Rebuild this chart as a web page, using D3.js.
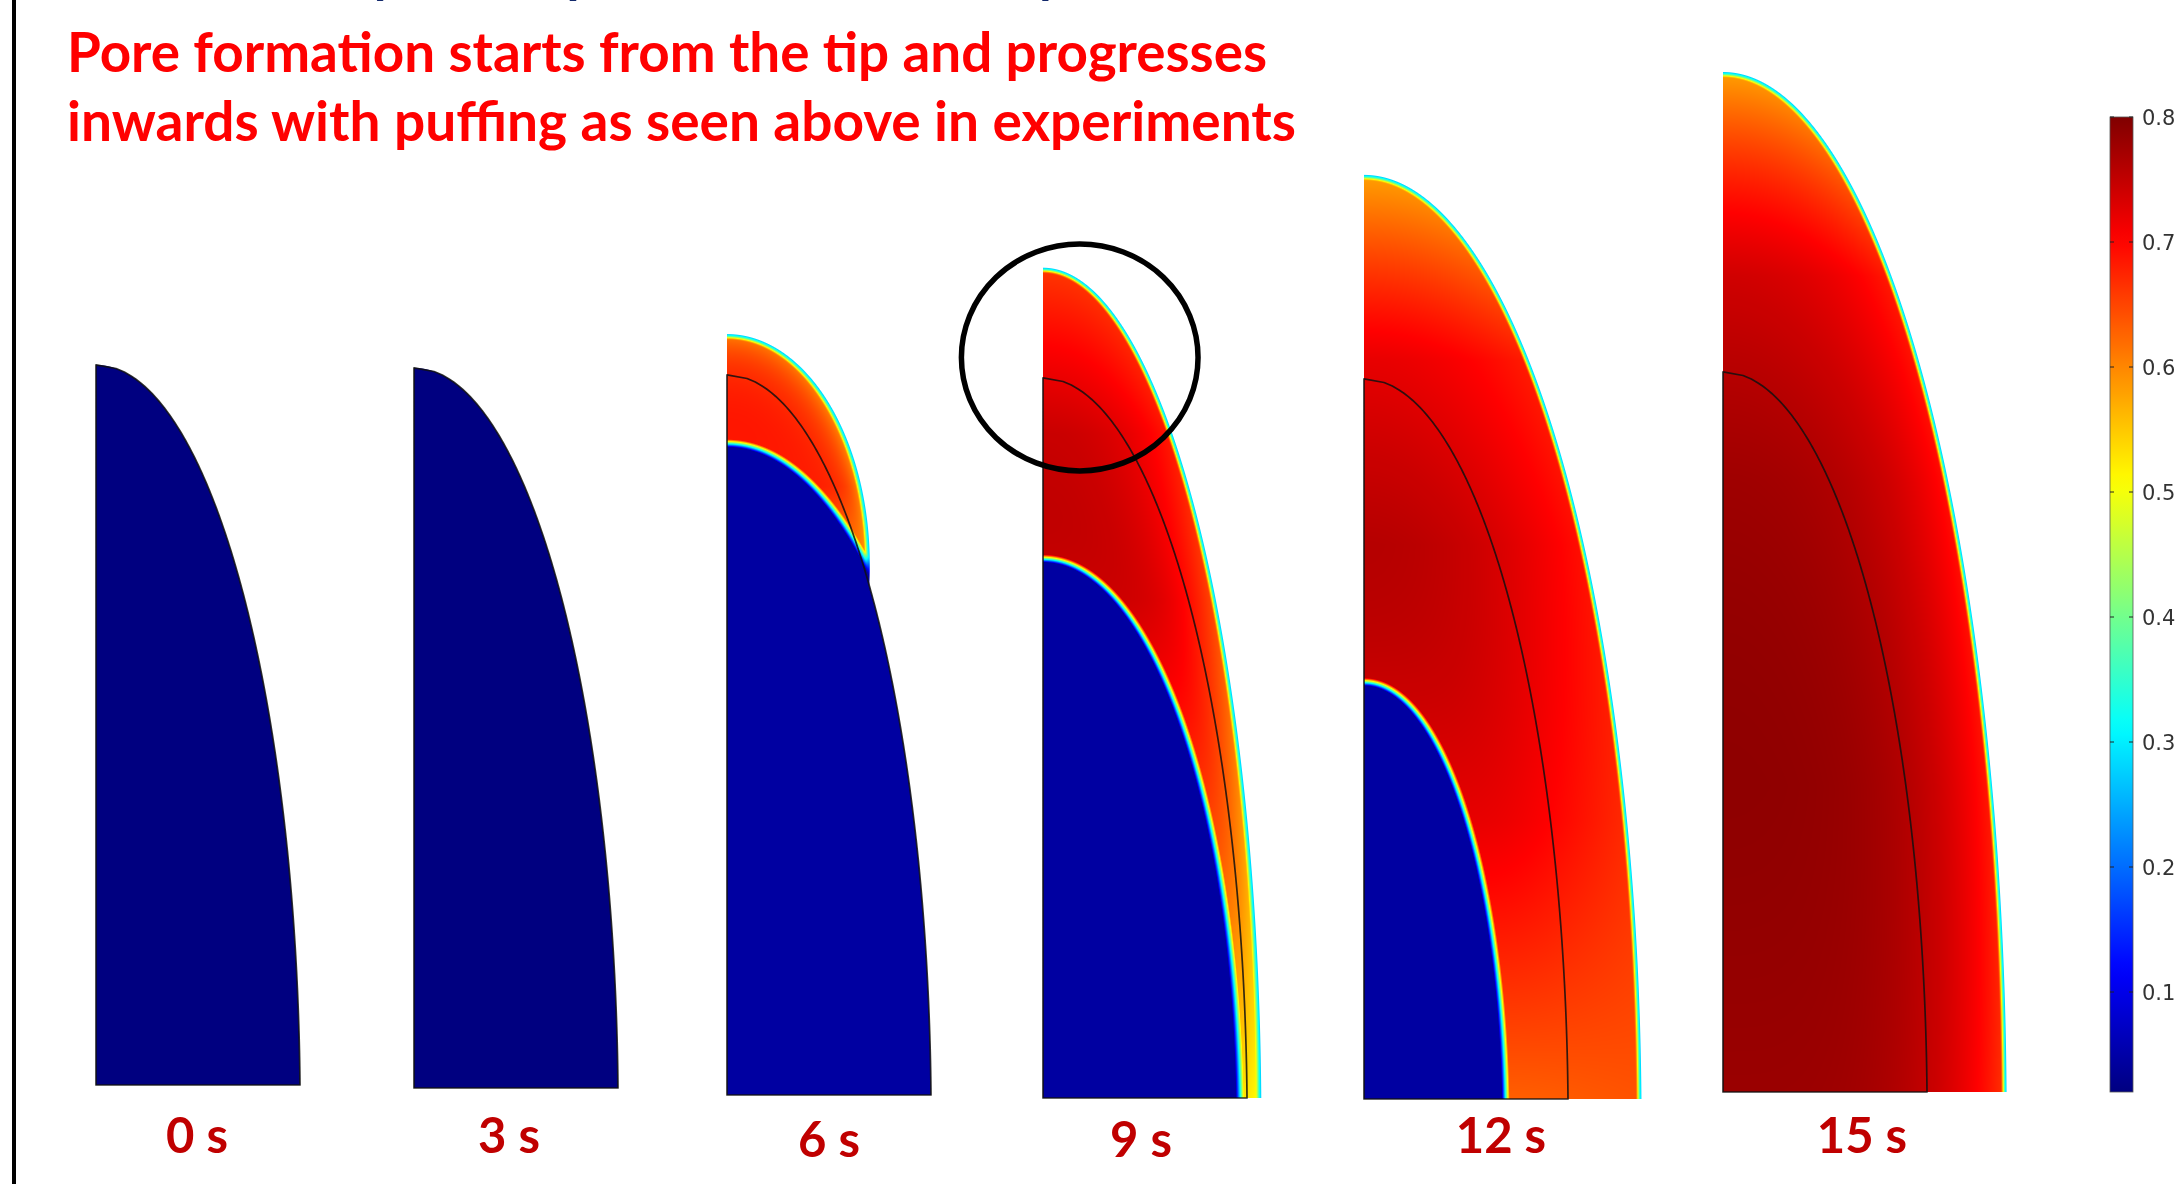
<!DOCTYPE html>
<html><head><meta charset="utf-8">
<script src="https://cdn.jsdelivr.net/npm/d3@7"></script>
<style>
html,body{margin:0;padding:0;background:#fff;}
#wrap{position:relative;width:2184px;height:1184px;overflow:hidden;background:#fff;}
canvas,svg{position:absolute;left:0;top:0;}
</style></head>
<body><div id="wrap"><canvas id="field" width="2184" height="1184"></canvas><svg id="chart" width="2184" height="1184"></svg></div>
<script>
// ---- snapshot data (lengths normalised by the initial kernel half-width) ----
const times = ["0 s", "3 s", "6 s", "9 s", "12 s", "15 s"];
const kernelHalfWidth = 1.0;
const kernelHeight = 3.53;
// swollen outer surface (half-width at the base, height at the tip)
const outerHalfWidth = [1.0, 1.0, 1.0, 1.07, 1.36, 1.39];
const outerHeight    = [3.53, 3.53, 3.73, 4.07, 4.53, 5.00];
// at 6 s only the tip has puffed: a cap sitting on the original kernel
const capBase      = [null, null, 2.60, null, null, null];
const capHalfWidth = [null, null, 0.70, null, null, null];
// pore front (edge of the dense core); null = no pores yet, 0 = fully porous
const frontHalfWidth = [null, null, 1.19, 0.95, 0.68, 0];
const frontHeight    = [null, null, 3.18, 2.63, 2.03, 0];
// porosity of the dense core
const coreValue = [0.02, 0.02, 0.045, 0.045, 0.045, 0.045];
// porosity next to the front and at the surface, along relative height
const heightStops = [0, 0.3, 0.6, 0.8, 1];
const innerPorosity = [null, null,
  [0.50, 0.50, 0.50, 0.68, 0.70],
  [0.53, 0.64, 0.74, 0.77, 0.76],
  [0.63, 0.72, 0.77, 0.77, 0.75],
  [0.78, 0.79, 0.79, 0.78, 0.75]];
const outerPorosity = [null, null,
  [0.50, 0.50, 0.50, 0.56, 0.60],
  [0.50, 0.56, 0.64, 0.68, 0.66],
  [0.64, 0.67, 0.69, 0.68, 0.58],
  [0.66, 0.68, 0.69, 0.68, 0.58]];
const profileExponent = [1, 1, 1.5, 2, 2.5, 4];
const surfaceValue = 0.28;
// colour bar
const colorDomain = [0.02, 0.8];
const colorTicks = [0.1, 0.2, 0.3, 0.4, 0.5, 0.6, 0.7, 0.8];
// text
const headline = "Porosity development \u2013 model study";
const noteLines = ["Pore formation starts from the tip and progresses",
                   "inwards with puffing as seen above in experiments"];

// ---- layout ----
const W = 2184, H = 1184;
const unitPx = 204;
const panelLeft   = [96, 414, 727, 1043, 1364, 1723];
const panelBottom = [1085, 1088, 1095, 1098, 1099, 1092];
const labelCentre = [197, 509, 829, 1141, 1501, 1862];
const labelBase   = [1153, 1153, 1157, 1157, 1153, 1153];
const baseDrop = 0.12; // ellipse centres sit slightly below the base

const svg = d3.select("#chart");
const ctx = document.getElementById("field").getContext("2d");

// jet colour map over the colour-bar domain
const jetStops = [0, 0.125, 0.375, 0.625, 0.875, 1].map(t => colorDomain[0] + t * (colorDomain[1] - colorDomain[0]));
const color = d3.scaleLinear().domain(jetStops)
  .range(["#000080", "#0000ff", "#00ffff", "#ffff00", "#ff0000", "#800000"])
  .interpolate(d3.interpolateRgb).clamp(true);
const LUT_N = 1024;
const lut = d3.range(LUT_N).map(i => d3.rgb(color(colorDomain[0] + i / (LUT_N - 1) * (colorDomain[1] - colorDomain[0]))));
function rgbOf(v) {
  let i = Math.round((v - colorDomain[0]) / (colorDomain[1] - colorDomain[0]) * (LUT_N - 1));
  return lut[Math.max(0, Math.min(LUT_N - 1, i))];
}

function ellipseFrom(halfW, height) {
  const b = height + baseDrop;
  const a = halfW / Math.sqrt(1 - (baseDrop / b) ** 2);
  return {a, b, zc: -baseDrop};
}
function ellipseDist(r, z, e) {
  const u = r / e.a, w = (z - e.zc) / e.b;
  const q = Math.hypot(u, w);
  const g = Math.hypot(r / (e.a * e.a), (z - e.zc) / (e.b * e.b)) / Math.max(q, 1e-9);
  return {q, d: g > 1e-9 ? (q - 1) / g : -Math.min(e.a, e.b)};
}
const clamp01 = v => Math.max(0, Math.min(1, v));
const smooth = (e0, e1, x) => { const t = clamp01((x - e0) / (e1 - e0)); return t * t * (3 - 2 * t); };

const kernel = ellipseFrom(kernelHalfWidth, kernelHeight);

times.forEach((label, i) => {
  const x = d3.scaleLinear([0, 1], [panelLeft[i], panelLeft[i] + unitPx]);
  const y = d3.scaleLinear([0, 1], [panelBottom[i], panelBottom[i] - unitPx]);

  const swollen = capBase[i] === null ? ellipseFrom(outerHalfWidth[i], outerHeight[i]) : kernel;
  const cap = capBase[i] === null ? null :
    {a: capHalfWidth[i], b: outerHeight[i] - capBase[i], zc: capBase[i]};
  const front = frontHeight[i] === null ? null :
    (frontHeight[i] === 0 ? "none" : ellipseFrom(frontHalfWidth[i], frontHeight[i]));
  const inner = innerPorosity[i] ? d3.scaleLinear(heightStops, innerPorosity[i]).clamp(true) : null;
  const outer = outerPorosity[i] ? d3.scaleLinear(heightStops, outerPorosity[i]).clamp(true) : null;

  const maxR = Math.max(outerHalfWidth[i], kernelHalfWidth) + 0.05;
  const px0 = Math.floor(x(0)), px1 = Math.ceil(x(maxR)) + 2;
  const py0 = Math.floor(y(outerHeight[i])) - 3, py1 = Math.round(y(0));
  const img = ctx.createImageData(px1 - px0, py1 - py0);
  const data = img.data;

  for (let py = py0; py < py1; py++) {
    const z = y.invert(py + 0.5);
    if (z < 0) continue;
    for (let px = px0; px < px1; px++) {
      const r = x.invert(px + 0.5);
      if (r < 0) continue;
      const so = ellipseDist(r, z, swollen);
      let dO = so.d, qO = so.q;
      if (cap) {
        const sc = ellipseDist(r, z, cap);
        if (sc.d < dO) dO = sc.d;
        if (sc.q < qO) qO = sc.q;
      }
      const dOpx = dO * unitPx;
      const alpha = clamp01(0.5 - dOpx);
      if (alpha <= 0) continue;

      let v = coreValue[i];
      if (front !== null) {
        const h = z / outerHeight[i];
        let t, wPore;
        if (front === "none") {
          t = clamp01(qO);
          wPore = 1;
        } else {
          const sf = ellipseDist(r, z, front);
          const a1 = Math.max(sf.q - 1, 0), a2 = Math.max(1 - qO, 0);
          t = a1 + a2 > 0 ? clamp01(a1 / (a1 + a2)) : 1;
          wPore = clamp01((sf.d * unitPx + 1) / 8);
        }
        const vi = inner(h), vo = outer(h);
        let vp = vi + (vo - vi) * Math.pow(t, profileExponent[i]);
        const rim = smooth(0, 6, -dOpx);
        vp = surfaceValue + (vp - surfaceValue) * rim;
        v = coreValue[i] + (vp - coreValue[i]) * wPore;
      }
      const c = rgbOf(v);
      const o = ((py - py0) * (px1 - px0) + (px - px0)) * 4;
      data[o] = c.r; data[o + 1] = c.g; data[o + 2] = c.b; data[o + 3] = Math.round(alpha * 255);
    }
  }
  const tmp = document.createElement("canvas");
  tmp.width = px1 - px0; tmp.height = py1 - py0;
  tmp.getContext("2d").putImageData(img, 0, 0);
  ctx.drawImage(tmp, px0, py0);

  // original kernel outline
  const zs = d3.range(0, 201).map(j => kernelHeight * (1 - j / 200));
  const pts = [[0, 0], [0, kernelHeight]].concat(zs.map(z => {
    const rr = kernel.a * Math.sqrt(Math.max(0, 1 - ((z - kernel.zc) / kernel.b) ** 2));
    return [rr, z];
  }));
  const line = d3.line().x(d => x(d[0])).y(d => y(d[1]));
  svg.append("path").attr("d", line(pts) + "Z")
    .attr("fill", "none").attr("stroke", "#111").attr("stroke-width", 1.7)
    .attr("stroke-opacity", 0.85).attr("stroke-linejoin", "round");

  // time label under the snapshot
  svg.append("text").attr("x", labelCentre[i]).attr("y", labelBase[i])
    .attr("text-anchor", "middle").attr("font-family", "Lato, 'Open Sans', sans-serif")
    .attr("font-weight", 700).attr("font-size", 49).attr("fill", "#c00000").text(label);

  // highlight of the puffed tip at 9 s
  if (label === "9 s") {
    svg.append("ellipse").attr("cx", x(0.18)).attr("cy", y(3.63))
      .attr("rx", x(0.58) - x(0)).attr("ry", y(0) - y(0.556))
      .attr("fill", "none").attr("stroke", "#000").attr("stroke-width", 5.5);
  }
});

// left frame rule
svg.append("rect").attr("x", 12).attr("y", 0).attr("width", 4).attr("height", H).attr("fill", "#000");

// headline running off the top edge
const head = svg.append("text").attr("x", 0).attr("y", 0)
  .attr("font-family", "Lato, sans-serif").attr("font-weight", 700).attr("font-size", 60)
  .attr("fill", "#12286b").text(headline);
{
  const n = head.node();
  const i1 = headline.indexOf("y"), i2 = headline.lastIndexOf("y");
  const c1 = (n.getStartPositionOfChar(i1).x + n.getEndPositionOfChar(i1).x) / 2;
  const c2 = (n.getStartPositionOfChar(i2).x + n.getEndPositionOfChar(i2).x) / 2;
  const s = (1050 - 384) / (c2 - c1);
  const fs = 60 * s;
  head.attr("font-size", fs).attr("x", 384 - c1 * s).attr("y", 3.5 - 0.215 * fs);
}

// red note
const noteWidth = [1200, 1229];
noteLines.forEach((t, j) => {
  svg.append("text").attr("x", 67).attr("y", 72 + j * 69)
    .attr("font-family", "Lato, sans-serif").attr("font-weight", 700).attr("font-size", 55)
    .attr("fill", "#ff0000").attr("textLength", noteWidth[j]).attr("lengthAdjust", "spacingAndGlyphs")
    .text(t);
});

// colour bar
const cb = {x: 2110, w: 23, top: 117, bottom: 1092};
const cy = d3.scaleLinear(colorDomain, [cb.bottom, cb.top]);
const grad = svg.append("defs").append("linearGradient").attr("id", "jet")
  .attr("x1", 0).attr("y1", 1).attr("x2", 0).attr("y2", 0);
d3.range(0, 61).forEach(j => {
  const v = colorDomain[0] + j / 60 * (colorDomain[1] - colorDomain[0]);
  grad.append("stop").attr("offset", (j / 60 * 100) + "%").attr("stop-color", color(v));
});
svg.append("rect").attr("x", cb.x).attr("y", cb.top).attr("width", cb.w).attr("height", cb.bottom - cb.top)
  .attr("fill", "url(#jet)").attr("stroke", "#555").attr("stroke-width", 0.8);
const tickG = svg.append("g");
colorTicks.forEach(v => {
  const ty = cy(v);
  tickG.append("line").attr("x1", cb.x).attr("x2", cb.x + 4).attr("y1", ty).attr("y2", ty).attr("stroke", "#222").attr("stroke-width", 1);
  tickG.append("line").attr("x1", cb.x + cb.w - 4).attr("x2", cb.x + cb.w).attr("y1", ty).attr("y2", ty).attr("stroke", "#222").attr("stroke-width", 1);
  tickG.append("text").attr("x", cb.x + cb.w + 9).attr("y", ty).attr("dy", "0.36em")
    .attr("font-family", "'DejaVu Sans', sans-serif").attr("font-size", 21).attr("fill", "#333")
    .text(d3.format(".1f")(v));
});
</script></body></html>
